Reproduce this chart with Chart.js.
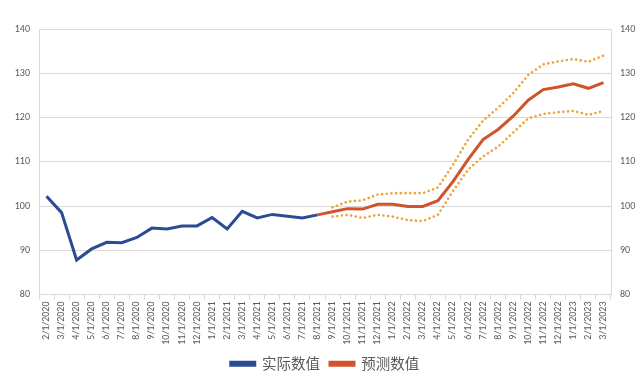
<!DOCTYPE html>
<html>
<head>
<meta charset="utf-8">
<script src="https://cdn.jsdelivr.net/npm/chart.js@4.4.1/dist/chart.umd.min.js"></script>
<style>
  html, body { margin: 0; padding: 0; background: #ffffff; }
  #wrap { width: 644px; height: 381px; position: relative; }
</style>
</head>
<body>
<div id="wrap"><canvas id="c" width="644" height="381"></canvas></div>
<script>
const categories = [
  "2/1/2020","3/1/2020","4/1/2020","5/1/2020","6/1/2020","7/1/2020","8/1/2020","9/1/2020",
  "10/1/2020","11/1/2020","12/1/2020","1/1/2021","2/1/2021","3/1/2021","4/1/2021","5/1/2021",
  "6/1/2021","7/1/2021","8/1/2021","9/1/2021","10/1/2021","11/1/2021","12/1/2021","1/1/2022",
  "2/1/2022","3/1/2022","4/1/2022","5/1/2022","6/1/2022","7/1/2022","8/1/2022","9/1/2022",
  "10/1/2022","11/1/2022","12/1/2022","1/1/2023","2/1/2023","3/1/2023"
];

const actualValues = [
  102.2, 98.5, 87.8, 90.3, 91.8, 91.7, 92.9, 95.0,
  94.8, 95.5, 95.5, 97.4, 94.8, 98.8, 97.3, 98.1,
  97.7, 97.3, 98.0, null, null, null, null, null,
  null, null, null, null, null, null, null, null,
  null, null, null, null, null, null
];

const forecastValues = [
  null, null, null, null, null, null, null, null,
  null, null, null, null, null, null, null, null,
  null, null, 98.0, 98.7, 99.4, 99.3, 100.4, 100.4,
  99.9, 99.9, 101.2, 105.5, 110.5, 115.0, 117.3, 120.3,
  123.9, 126.3, 126.9, 127.6, 126.6, 127.9
];

const upperValues = [
  null, null, null, null, null, null, null, null,
  null, null, null, null, null, null, null, null,
  null, null, null, 99.7, 101.0, 101.3, 102.6, 102.9,
  102.9, 102.9, 104.2, 109.3, 115.0, 119.3, 122.2, 125.5,
  129.6, 132.0, 132.7, 133.2, 132.6, 134.0
];

const lowerValues = [
  null, null, null, null, null, null, null, null,
  null, null, null, null, null, null, null, null,
  null, null, null, 97.6, 98.0, 97.3, 98.0, 97.6,
  96.8, 96.6, 98.0, 103.4, 108.2, 111.2, 113.4, 116.6,
  119.8, 120.8, 121.2, 121.5, 120.6, 121.5
];

const seriesNames = ["实际数值", "预测数值", "上限", "下限"];
const yTicks = [80, 90, 100, 110, 120, 130, 140];

const BLUE = "#2b4c93";
const ORANGE = "#d0532b";
const GOLD = "#eea33a";
const GRID = "#d9d9d9";
const TXT = "#595959";

const tickFont = { family: "Calibri, Carlito, 'Liberation Sans', Arial, sans-serif", size: 10 };

const chart = new Chart(document.getElementById("c"), {
  type: "line",
  data: {
    labels: categories,
    datasets: [
      { label: seriesNames[0], data: actualValues, borderColor: BLUE, backgroundColor: BLUE,
        borderWidth: 3, pointRadius: 0, tension: 0, yAxisID: "y", order: 1 },
      { label: seriesNames[1], data: forecastValues, borderColor: ORANGE, backgroundColor: ORANGE,
        borderWidth: 3, pointRadius: 0, tension: 0, yAxisID: "y", order: 2 },
      { label: seriesNames[2], data: upperValues, borderColor: GOLD, backgroundColor: GOLD,
        borderWidth: 2.6, borderDash: [0.1, 4.6], borderCapStyle: "round",
        pointRadius: 0, tension: 0, yAxisID: "y", order: 3 },
      { label: seriesNames[3], data: lowerValues, borderColor: GOLD, backgroundColor: GOLD,
        borderWidth: 2.6, borderDash: [0.1, 4.6], borderCapStyle: "round",
        pointRadius: 0, tension: 0, yAxisID: "y", order: 4 }
    ]
  },
  options: {
    responsive: false,
    animation: false,
    events: [],
    layout: { padding: { top: 29, left: 0, right: 0, bottom: 0 } },
    plugins: {
      tooltip: { enabled: false },
      legend: {
        position: "bottom",
        fullSize: false,
        labels: {
          filter: (item) => item.datasetIndex < 2,
          boxWidth: 24,
          boxHeight: 3,
          padding: 10,
          color: TXT,
          font: { family: "'Noto Sans CJK SC', sans-serif", size: 14.5 }
        }
      }
    },
    scales: {
      x: {
        type: "category",
        offset: true,
        grid: { display: true, drawOnChartArea: false, offset: true, color: GRID, tickLength: 5, tickColor: GRID },
        border: { color: GRID, width: 1 },
        ticks: { color: TXT, font: tickFont, maxRotation: 90, minRotation: 90, autoSkip: false, padding: 2 },
        afterFit: (s) => { s.height = 52; }
      },
      y: {
        position: "left",
        min: 80, max: 140,
        afterBuildTicks: (s) => { s.ticks = yTicks.map(v => ({ value: v })); },
        grid: { color: GRID, lineWidth: 1, drawTicks: false },
        border: { color: GRID, width: 1 },
        ticks: { color: TXT, font: tickFont, padding: 9 },
        afterFit: (s) => { s.width = 39; }
      },
      y2: {
        position: "right",
        min: 80, max: 140,
        afterBuildTicks: (s) => { s.ticks = yTicks.map(v => ({ value: v })); },
        grid: { drawOnChartArea: false, drawTicks: false },
        border: { color: GRID, width: 1 },
        ticks: { color: TXT, font: tickFont, padding: 9 },
        afterFit: (s) => { s.width = 33; }
      }
    }
  }
});
</script>
</body>
</html>
